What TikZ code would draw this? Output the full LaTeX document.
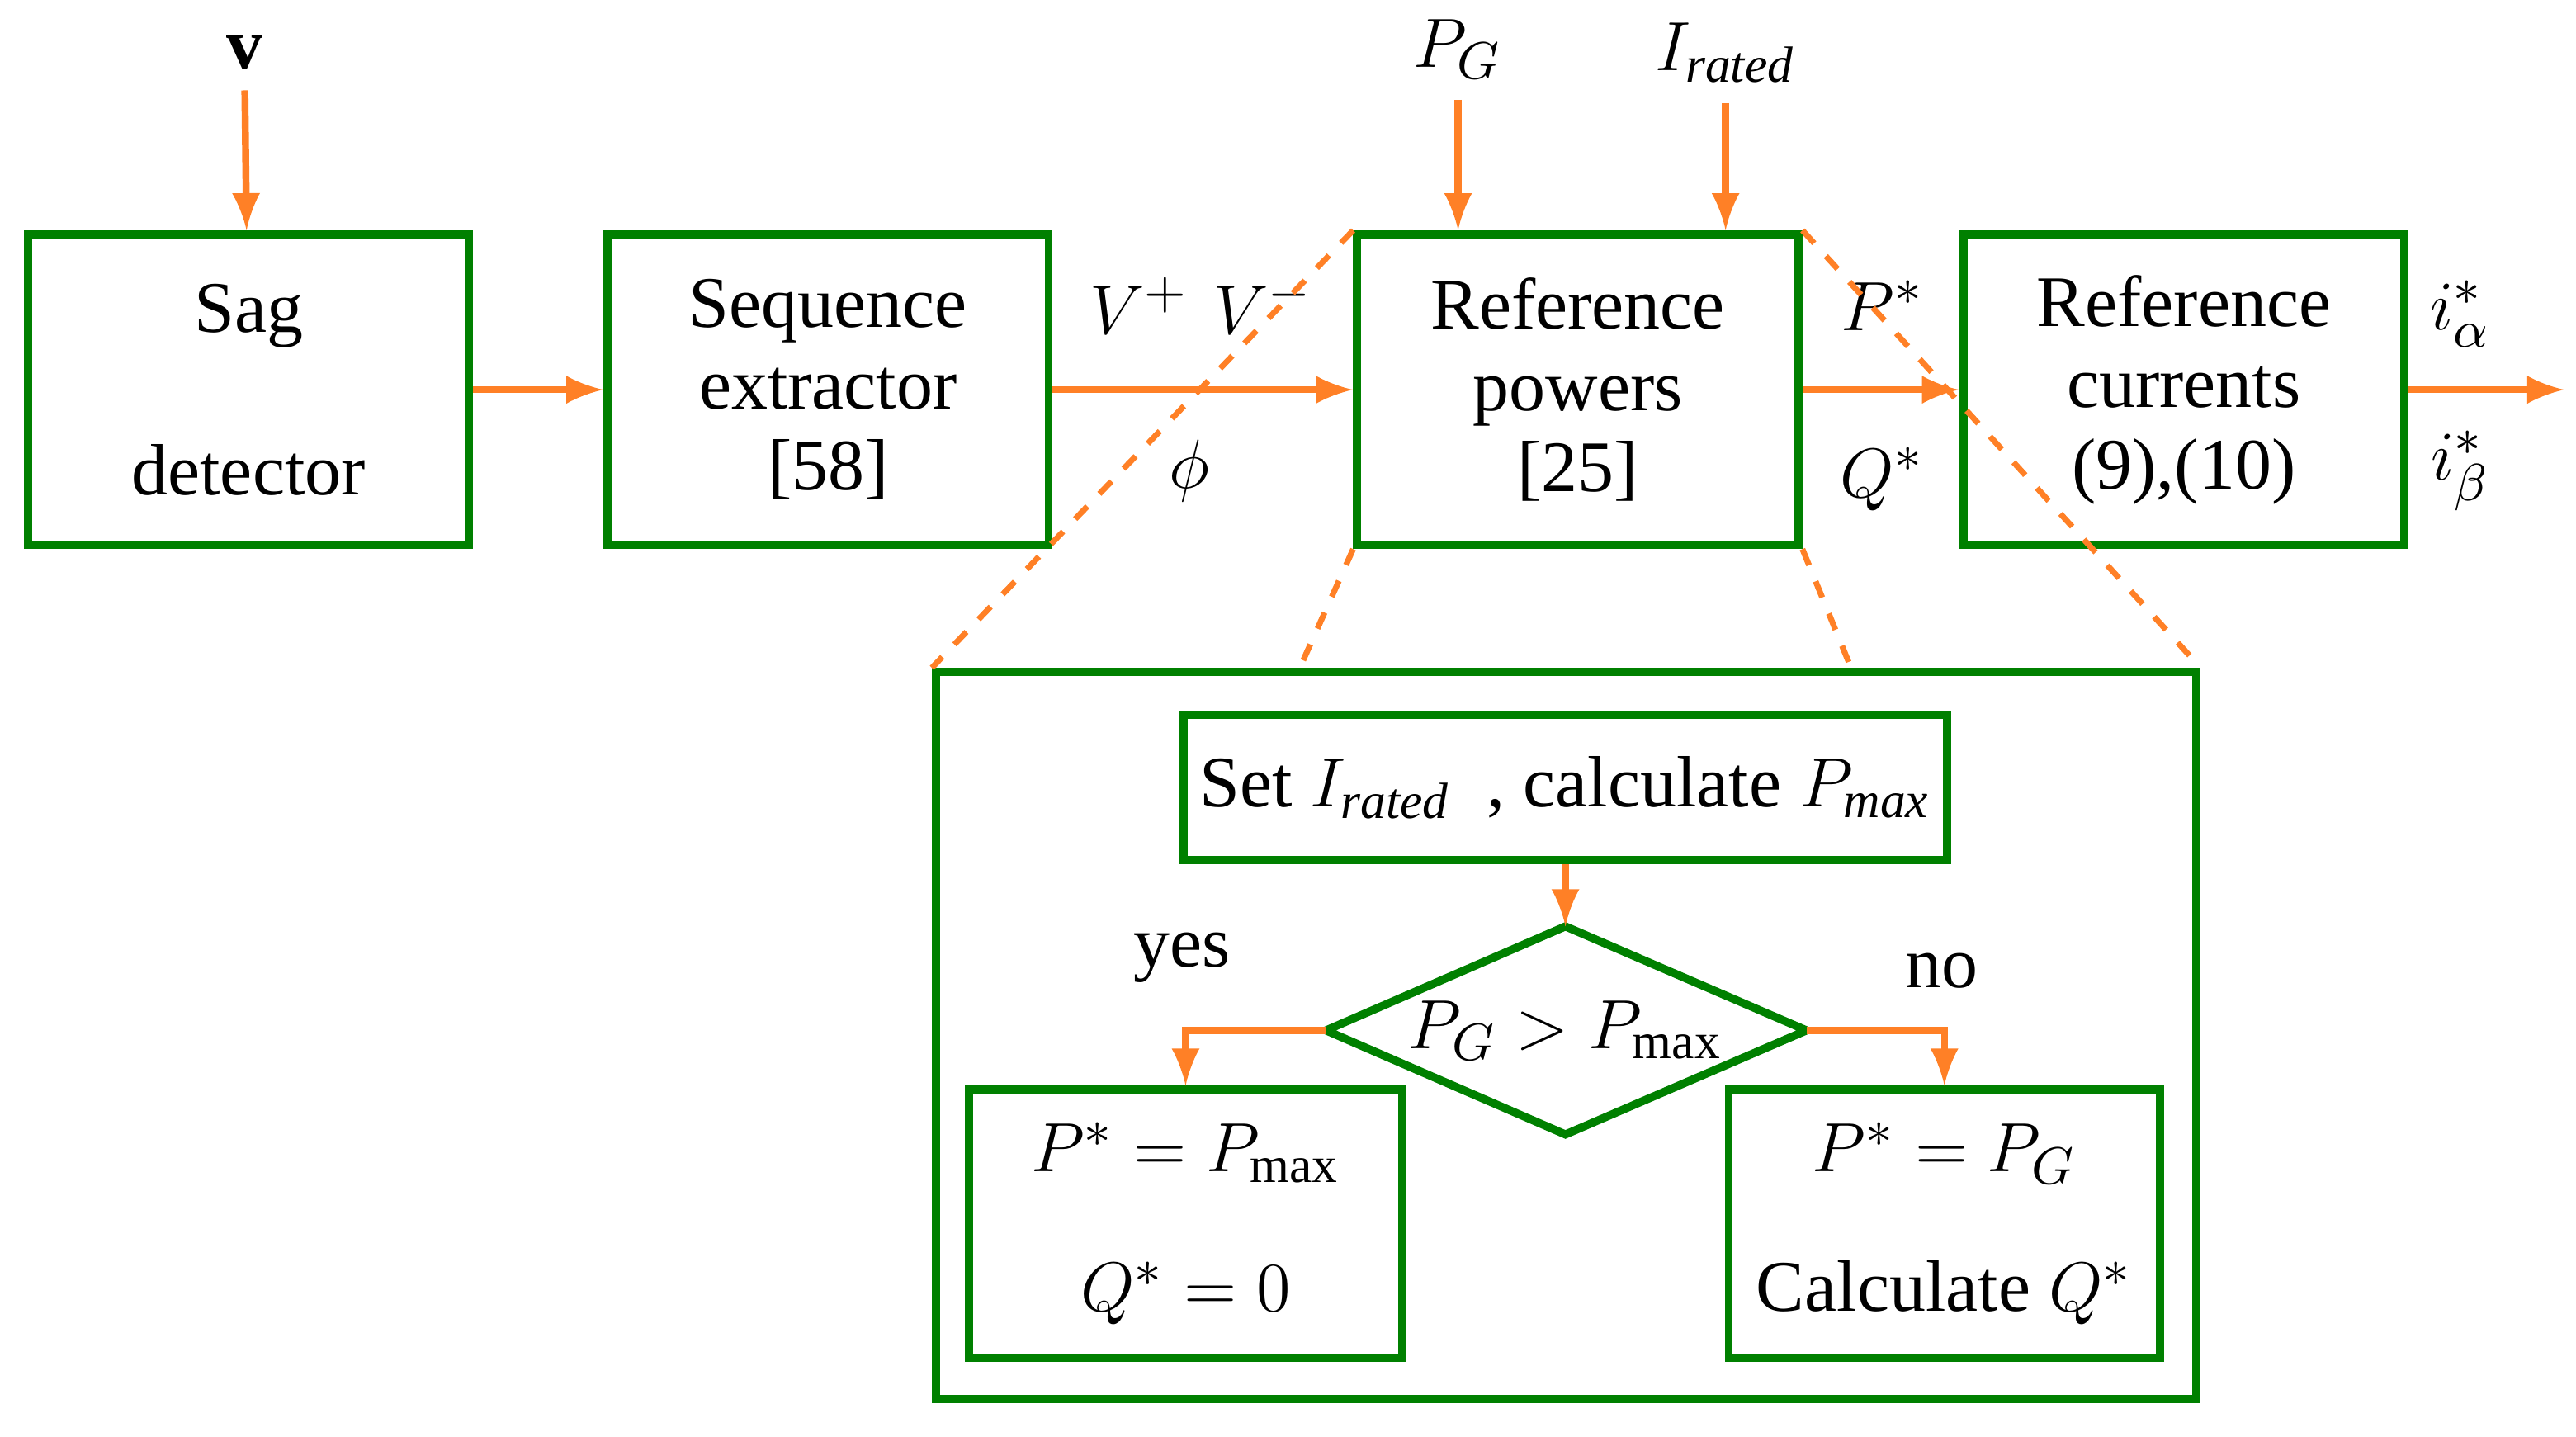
\documentclass[tikz,border=0pt]{standalone}
\usepackage{fontspec}
\setmainfont{Liberation Serif}
\usetikzlibrary{shapes.geometric,arrows}
\definecolor{boxgreen}{rgb}{0.0,0.5,0.0}
\definecolor{arrorange}{rgb}{1.0,0.5,0.15}
\tikzset{
  blk/.style={draw=boxgreen,line width=1.4pt,align=center,inner sep=0pt},
  flow/.style={arrorange,line width=1.2pt,-latex},
  zoomline/.style={arrorange,line width=1pt,dashed},
}
\begin{document}
\begin{tikzpicture}[x=0.01cm,y=-0.01cm,font=\fontsize{12.5}{14}\selectfont]
  \useasboundingbox (0,0) rectangle (1560,870);
  \node (sag) at (150.5,236) [blk,minimum width=2.67cm,minimum height=1.88cm] {Sag\\[14pt] detector};
  \node (seq) at (501.5,236) [blk,minimum width=2.67cm,minimum height=1.88cm] {Sequence\\ extractor\\ {[58]}};
  \node (rp) at (955.5,236) [blk,minimum width=2.67cm,minimum height=1.88cm] {Reference\\ powers\\ {[25]}};
  \node (rc) at (1322.5,236) [blk,minimum width=2.67cm,minimum height=1.88cm] {Reference\\ currents\\ (9),(10)};
  \node (big) at (948.5,627) [blk,minimum width=7.63cm,minimum height=4.40cm] {};
  \node (set) at (948,477) [blk,minimum width=4.62cm,minimum height=0.88cm] {Set $I_{\mathit{rated}}$\ \ , calculate $P_{\mathit{max}}$};
  \node (cmp) at (948,624) {$P_G > P_{\max}$};
  \coordinate (cmpw) at (803,624);
  \coordinate (cmpe) at (1094,624);
  \coordinate (cmpn) at (948,561);
  \draw [boxgreen,line width=1.4pt] (cmpw) -- (cmpn) -- (cmpe) -- (948,687) -- cycle;
  \node (lim) at (718,741) [blk,minimum width=2.62cm,minimum height=1.62cm] {$P^* = P_{\max}$\\[10pt] $Q^* = 0$};
  \node (calc) at (1177.5,741) [blk,minimum width=2.61cm,minimum height=1.62cm] {$P^* = P_G$\\[10pt] Calculate $Q^*$};
  % inputs and outputs
  \node (v) at (148,32) {$\mathbf{v}$};
  \node (pg) at (883,30) {$P_G$};
  \node (ir) at (1045,32) {$I_{\mathit{rated}}$};
  \coordinate (out) at (1553,236);
  \node at (690,185) {$V^+$};
  \node at (765,185) {$V^-$};
  \node at (720,285) {$\phi$};
  \node at (1140,185) {$P^*$};
  \node at (1140,290) {$Q^*$};
  \node at (1490,190) {$i_\alpha^*$};
  \node at (1490,285) {$i_\beta^*$};
  \node at (716,580) {yes};
  \node at (1176,588) {no};
  % connectors
  \draw [flow] (v) -- (sag);
  \draw [flow] (pg) -- (pg |- rp.north);
  \draw [flow] (ir) -- (ir |- rp.north);
  \draw [flow] (sag) -- (seq);
  \draw [flow] (seq) -- (rp);
  \draw [flow] (rp) -- (rc);
  \draw [flow] (rc) -- (out);
  \draw [flow] (set) -- (cmpn);
  \draw [flow] (cmpw) -| (lim.north);
  \draw [flow] (cmpe) -| (calc.north);
  % zoom lines
  \draw [zoomline] (rp.north west) -- (big.north west);
  \draw [zoomline] (rp.north east) -- (big.north east);
  \draw [zoomline] (rp.south west) -- (786,407);
  \draw [zoomline] (rp.south east) -- (1122,407);
\end{tikzpicture}
\end{document}
